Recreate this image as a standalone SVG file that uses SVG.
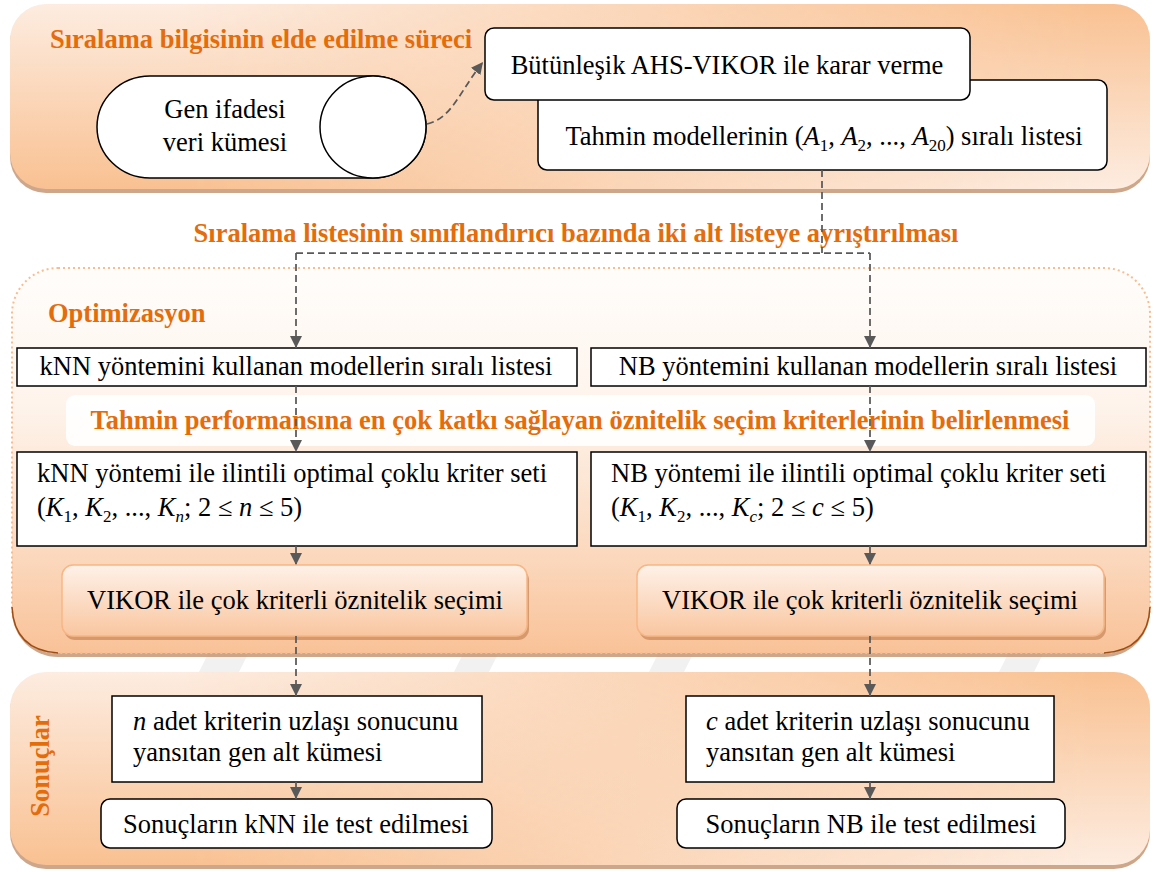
<svg xmlns="http://www.w3.org/2000/svg" width="1154" height="872" viewBox="0 0 1154 872">
  <defs>
    <style>
      .t { font-size: 26.5px; fill: #000; }
      .h { font-size: 26.5px; font-weight: bold; fill: #e46c0a; }
      .i { font-style: italic; }
      .sub { font-size: 17px; }
      .box { fill: #fff; stroke: #000; stroke-width: 1.5; }
      .vik { fill: url(#vikFill); stroke: #f7b685; stroke-width: 1.5; }
      .vikShadow { fill: #c98a5c; opacity: 0.75; }
      .link { fill: none; stroke: #595959; stroke-width: 1.75; stroke-dasharray: 7 4; }
      .solid { fill: none; stroke: #595959; stroke-width: 1.75; }
      .pshadow { fill: #c49878; opacity: 0.85; }
      .wm { fill: #f1f1f1; }
    </style>
    <!-- light-to-peach panel shading, mirrored on the right half -->
    <linearGradient id="vDown" x1="0" y1="0" x2="0" y2="1">
      <stop offset="0" stop-color="#fdece0"/>
      <stop offset="1" stop-color="#f9c192"/>
    </linearGradient>
    <linearGradient id="vUp" x1="0" y1="0" x2="0" y2="1">
      <stop offset="0" stop-color="#f9c192"/>
      <stop offset="1" stop-color="#fdece0"/>
    </linearGradient>
    <linearGradient id="hRamp" x1="0" y1="0" x2="1" y2="0">
      <stop offset="0.15" stop-color="#000"/>
      <stop offset="0.95" stop-color="#fff"/>
    </linearGradient>
    <mask id="rightHalf" maskContentUnits="objectBoundingBox">
      <rect x="0" y="0" width="1" height="1" fill="url(#hRamp)"/>
    </mask>
    <linearGradient id="midFill" x1="0" y1="0" x2="0" y2="1">
      <stop offset="0" stop-color="#fffdfb"/>
      <stop offset="0.35" stop-color="#fef4ec"/>
      <stop offset="0.75" stop-color="#fbd8bd"/>
      <stop offset="1" stop-color="#f9c298"/>
    </linearGradient>
    <linearGradient id="vikFill" x1="0" y1="0" x2="0" y2="1">
      <stop offset="0" stop-color="#fef1e8"/>
      <stop offset="1" stop-color="#f9c6a0"/>
    </linearGradient>
    <marker id="arrow" viewBox="0 0 10 10" refX="10" refY="5" markerWidth="12" markerHeight="12" markerUnits="userSpaceOnUse" orient="auto">
      <path d="M0,0 L10,5 L0,10 z" fill="#595959"/>
    </marker>
  </defs>

  <rect width="1154" height="872" fill="#fff"/>

  <g font-family="'Liberation Serif', 'Times New Roman', Times, 'DejaVu Serif', serif">

  <!-- faint watermark bands -->
  <g id="watermark">
    <polygon class="wm" points="215,640 255,640 225,700 185,700"/>
    <polygon class="wm" points="470,640 505,640 475,700 440,700"/>
    <polygon class="wm" points="665,640 700,640 670,700 635,700"/>
    <polygon class="wm" points="1015,640 1050,640 1020,700 985,700"/>
  </g>

  <!-- panel: ranking information -->
  <g id="panel-ranking">
    <rect class="pshadow" x="10" y="7" width="1140" height="186" rx="36"/>
    <rect x="10" y="4" width="1140" height="185" rx="36" fill="url(#vDown)"/>
    <rect x="10" y="4" width="1140" height="185" rx="36" fill="url(#vUp)" mask="url(#rightHalf)"/>
    <text class="h" x="50" y="48">Sıralama bilgisinin elde edilme süreci</text>
  </g>

  <!-- panel: optimisation -->
  <g id="panel-optimization">
    <rect class="pshadow" x="12" y="271" width="1138" height="386" rx="46"/>
    <rect x="12" y="268" width="1138" height="385" rx="46" fill="url(#midFill)" stroke="#f9bc8d" stroke-width="2" stroke-dasharray="2 3"/>
    <path d="M12,607 Q14,650 58,653" fill="none" stroke="#9d4c12" stroke-width="1.5"/>
    <path d="M1150,607 Q1148,650 1104,653" fill="none" stroke="#9d4c12" stroke-width="1.5"/>
    <text class="h" x="48" y="322">Optimizasyon</text>
  </g>

  <!-- panel: results -->
  <g id="panel-results">
    <rect class="pshadow" x="10" y="675" width="1140" height="194" rx="36"/>
    <rect x="10" y="672" width="1140" height="193" rx="36" fill="url(#vDown)"/>
    <rect x="10" y="672" width="1140" height="193" rx="36" fill="url(#vUp)" mask="url(#rightHalf)"/>
    <text class="h" transform="translate(49,766) rotate(-90)" text-anchor="middle" font-size="25">Sonuçlar</text>
  </g>

  <!-- split heading between panels -->
  <text id="label-split" class="h" x="576" y="242" text-anchor="middle">Sıralama listesinin sınıflandırıcı bazında iki alt listeye ayrıştırılması</text>

  <!-- banner for criteria heading -->
  <g id="label-criteria">
    <rect x="66" y="395" width="1029" height="51" rx="9" fill="#fff" opacity="0.92"/>
    <text class="h" x="580" y="429" text-anchor="middle">Tahmin performansına en çok katkı sağlayan öznitelik seçim kriterlerinin belirlenmesi</text>
  </g>

  <!-- data set cylinder -->
  <g id="node-dataset">
    <path class="box" d="M150,76 L373,76 A53,51 0 0 1 373,178 L150,178 A53,51 0 0 1 150,76 Z"/>
    <ellipse class="box" cx="373" cy="127" rx="53" ry="51"/>
    <text class="t" x="225" y="118" text-anchor="middle">Gen ifadesi</text>
    <text class="t" x="225" y="151" text-anchor="middle">veri kümesi</text>
  </g>

  <g id="node-ranked-list">
    <rect class="box" x="538" y="80" width="569" height="90" rx="9"/>
    <text class="t" x="824" y="145" text-anchor="middle">Tahmin modellerinin (<tspan class="i">A</tspan><tspan class="sub" dy="6">1</tspan><tspan dy="-6">, </tspan><tspan class="i">A</tspan><tspan class="sub" dy="6">2</tspan><tspan dy="-6">, ..., </tspan><tspan class="i">A</tspan><tspan class="sub" dy="6">20</tspan><tspan dy="-6">) sıralı listesi</tspan></text>
  </g>

  <g id="node-ahs-vikor">
    <rect class="box" x="485" y="28" width="485" height="72" rx="9"/>
    <text class="t" x="727" y="74" text-anchor="middle">Bütünleşik AHS-VIKOR ile karar verme</text>
  </g>

  <g id="node-knn-list">
    <rect class="box" x="17" y="348" width="560" height="38"/>
    <text class="t" x="296" y="375" text-anchor="middle">kNN yöntemini kullanan modellerin sıralı listesi</text>
  </g>

  <g id="node-nb-list">
    <rect class="box" x="591" y="348" width="555" height="38"/>
    <text class="t" x="868" y="375" text-anchor="middle">NB yöntemini kullanan modellerin sıralı listesi</text>
  </g>

  <g id="node-knn-criteria">
    <rect class="box" x="17" y="452" width="560" height="94"/>
    <text class="t" x="37" y="482">kNN yöntemi ile ilintili optimal çoklu kriter seti</text>
    <text class="t" x="37" y="516">(<tspan class="i">K</tspan><tspan class="sub" dy="6">1</tspan><tspan dy="-6">, </tspan><tspan class="i">K</tspan><tspan class="sub" dy="6">2</tspan><tspan dy="-6">, ..., </tspan><tspan class="i">K</tspan><tspan class="sub i" dy="6">n</tspan><tspan dy="-6">; 2 ≤ </tspan><tspan class="i">n</tspan><tspan> ≤ 5)</tspan></text>
  </g>

  <g id="node-nb-criteria">
    <rect class="box" x="591" y="452" width="555" height="94"/>
    <text class="t" x="611" y="482">NB yöntemi ile ilintili optimal çoklu kriter seti</text>
    <text class="t" x="611" y="516">(<tspan class="i">K</tspan><tspan class="sub" dy="6">1</tspan><tspan dy="-6">, </tspan><tspan class="i">K</tspan><tspan class="sub" dy="6">2</tspan><tspan dy="-6">, ..., </tspan><tspan class="i">K</tspan><tspan class="sub i" dy="6">c</tspan><tspan dy="-6">; 2 ≤ </tspan><tspan class="i">c</tspan><tspan> ≤ 5)</tspan></text>
  </g>

  <g id="node-knn-vikor">
    <rect class="vikShadow" x="64" y="569" width="465" height="71" rx="11"/>
    <rect class="vik" x="62" y="565" width="465" height="71" rx="11"/>
    <text class="t" x="295" y="609" text-anchor="middle">VIKOR ile çok kriterli öznitelik seçimi</text>
  </g>

  <g id="node-nb-vikor">
    <rect class="vikShadow" x="639" y="569" width="467" height="71" rx="11"/>
    <rect class="vik" x="637" y="565" width="467" height="71" rx="11"/>
    <text class="t" x="870" y="609" text-anchor="middle">VIKOR ile çok kriterli öznitelik seçimi</text>
  </g>

  <g id="node-knn-subset">
    <rect class="box" x="112" y="696" width="370" height="86"/>
    <text class="t" x="133" y="730"><tspan class="i">n</tspan> adet kriterin uzlaşı sonucunu</text>
    <text class="t" x="133" y="761">yansıtan gen alt kümesi</text>
  </g>

  <g id="node-nb-subset">
    <rect class="box" x="686" y="696" width="368" height="86"/>
    <text class="t" x="706" y="730"><tspan class="i">c</tspan> adet kriterin uzlaşı sonucunu</text>
    <text class="t" x="706" y="761">yansıtan gen alt kümesi</text>
  </g>

  <g id="node-knn-test">
    <rect class="box" x="101" y="799" width="391" height="49" rx="9"/>
    <text class="t" x="296" y="833" text-anchor="middle">Sonuçların kNN ile test edilmesi</text>
  </g>

  <g id="node-nb-test">
    <rect class="box" x="677" y="799" width="388" height="49" rx="9"/>
    <text class="t" x="871" y="833" text-anchor="middle">Sonuçların NB ile test edilmesi</text>
  </g>

  <!-- connectors -->
  <g id="connectors">
    <path class="link" d="M427,124 C452,118 458,94 483,62" marker-end="url(#arrow)"/>
    <path class="link" d="M822,170 L822,253 M296,253 L870,253"/>
    <path class="link" d="M296,253 L296,348" marker-end="url(#arrow)"/>
    <path class="link" d="M870,253 L870,348" marker-end="url(#arrow)"/>
    <path class="link" d="M296,386 L296,452" marker-end="url(#arrow)"/>
    <path class="link" d="M870,386 L870,452" marker-end="url(#arrow)"/>
    <path class="link" d="M296,546 L296,565" marker-end="url(#arrow)"/>
    <path class="link" d="M870,546 L870,565" marker-end="url(#arrow)"/>
    <path class="link" d="M296,636 L296,696" marker-end="url(#arrow)"/>
    <path class="link" d="M870,636 L870,696" marker-end="url(#arrow)"/>
    <path class="solid" d="M296,782 L296,799" marker-end="url(#arrow)"/>
    <path class="solid" d="M870,782 L870,799" marker-end="url(#arrow)"/>
  </g>

  </g>
</svg>
